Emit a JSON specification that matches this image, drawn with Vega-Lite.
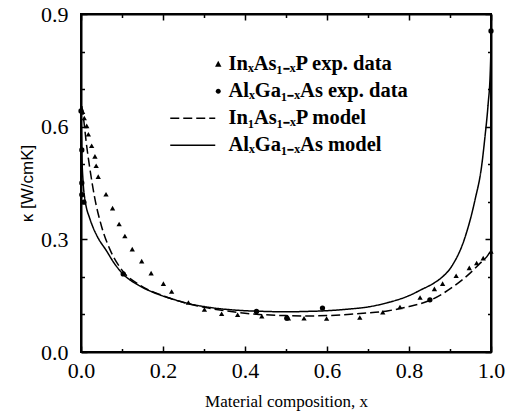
{
  "$schema": "https://vega.github.io/schema/vega-lite/v6.json",
  "width": 410,
  "height": 338,
  "autosize": {"type": "none"},
  "padding": {"left": 81, "top": 14, "right": 17, "bottom": 66},
  "background": "white",
  "config": {
    "view": {"stroke": "black", "strokeWidth": 2},
    "axis": {
      "grid": false,
      "domainColor": "black",
      "domainWidth": 2,
      "tickColor": "black",
      "tickWidth": 1.5,
      "labelFont": "Liberation Serif",
      "labelFontSize": 22,
      "labelColor": "black",
      "labelFlush": false,
      "titleColor": "black"
    }
  },
  "datasets": {
    "exp": [
      {"series": "InₓAs₁₋ₓP exp. data", "x": 0.004, "k": 0.640},
      {"series": "InₓAs₁₋ₓP exp. data", "x": 0.008, "k": 0.623},
      {"series": "InₓAs₁₋ₓP exp. data", "x": 0.014, "k": 0.602},
      {"series": "InₓAs₁₋ₓP exp. data", "x": 0.018, "k": 0.580},
      {"series": "InₓAs₁₋ₓP exp. data", "x": 0.026, "k": 0.549},
      {"series": "InₓAs₁₋ₓP exp. data", "x": 0.034, "k": 0.521},
      {"series": "InₓAs₁₋ₓP exp. data", "x": 0.037, "k": 0.496},
      {"series": "InₓAs₁₋ₓP exp. data", "x": 0.042, "k": 0.467},
      {"series": "InₓAs₁₋ₓP exp. data", "x": 0.061, "k": 0.420},
      {"series": "InₓAs₁₋ₓP exp. data", "x": 0.077, "k": 0.383},
      {"series": "InₓAs₁₋ₓP exp. data", "x": 0.093, "k": 0.341},
      {"series": "InₓAs₁₋ₓP exp. data", "x": 0.107, "k": 0.309},
      {"series": "InₓAs₁₋ₓP exp. data", "x": 0.125, "k": 0.274},
      {"series": "InₓAs₁₋ₓP exp. data", "x": 0.148, "k": 0.242},
      {"series": "InₓAs₁₋ₓP exp. data", "x": 0.171, "k": 0.210},
      {"series": "InₓAs₁₋ₓP exp. data", "x": 0.201, "k": 0.182},
      {"series": "InₓAs₁₋ₓP exp. data", "x": 0.221, "k": 0.161},
      {"series": "InₓAs₁₋ₓP exp. data", "x": 0.262, "k": 0.132},
      {"series": "InₓAs₁₋ₓP exp. data", "x": 0.301, "k": 0.113},
      {"series": "InₓAs₁₋ₓP exp. data", "x": 0.343, "k": 0.102},
      {"series": "InₓAs₁₋ₓP exp. data", "x": 0.382, "k": 0.099},
      {"series": "InₓAs₁₋ₓP exp. data", "x": 0.441, "k": 0.095},
      {"series": "InₓAs₁₋ₓP exp. data", "x": 0.506, "k": 0.090},
      {"series": "InₓAs₁₋ₓP exp. data", "x": 0.544, "k": 0.090},
      {"series": "InₓAs₁₋ₓP exp. data", "x": 0.599, "k": 0.089},
      {"series": "InₓAs₁₋ₓP exp. data", "x": 0.680, "k": 0.092},
      {"series": "InₓAs₁₋ₓP exp. data", "x": 0.736, "k": 0.106},
      {"series": "InₓAs₁₋ₓP exp. data", "x": 0.778, "k": 0.120},
      {"series": "InₓAs₁₋ₓP exp. data", "x": 0.827, "k": 0.145},
      {"series": "InₓAs₁₋ₓP exp. data", "x": 0.862, "k": 0.168},
      {"series": "InₓAs₁₋ₓP exp. data", "x": 0.882, "k": 0.182},
      {"series": "InₓAs₁₋ₓP exp. data", "x": 0.915, "k": 0.203},
      {"series": "InₓAs₁₋ₓP exp. data", "x": 0.947, "k": 0.224},
      {"series": "InₓAs₁₋ₓP exp. data", "x": 0.965, "k": 0.237},
      {"series": "InₓAs₁₋ₓP exp. data", "x": 0.981, "k": 0.250},
      {"series": "InₓAs₁₋ₓP exp. data", "x": 1.0, "k": 0.268},
      {"series": "AlₓGa₁₋ₓAs exp. data", "x": 0.0, "k": 0.642},
      {"series": "AlₓGa₁₋ₓAs exp. data", "x": 0.002, "k": 0.538},
      {"series": "AlₓGa₁₋ₓAs exp. data", "x": 0.002, "k": 0.450},
      {"series": "AlₓGa₁₋ₓAs exp. data", "x": 0.002, "k": 0.419},
      {"series": "AlₓGa₁₋ₓAs exp. data", "x": 0.007, "k": 0.399},
      {"series": "AlₓGa₁₋ₓAs exp. data", "x": 0.103, "k": 0.208},
      {"series": "AlₓGa₁₋ₓAs exp. data", "x": 0.428, "k": 0.108},
      {"series": "AlₓGa₁₋ₓAs exp. data", "x": 0.502, "k": 0.090},
      {"series": "AlₓGa₁₋ₓAs exp. data", "x": 0.589, "k": 0.117},
      {"series": "AlₓGa₁₋ₓAs exp. data", "x": 0.851, "k": 0.139},
      {"series": "AlₓGa₁₋ₓAs exp. data", "x": 1.0, "k": 0.855}
    ],
    "model": [
      {"series": "In₁As₁₋ₓP  model", "x": 0.002, "k": 0.655},
      {"series": "In₁As₁₋ₓP  model", "x": 0.007, "k": 0.615},
      {"series": "In₁As₁₋ₓP  model", "x": 0.013, "k": 0.556},
      {"series": "In₁As₁₋ₓP  model", "x": 0.021, "k": 0.493},
      {"series": "In₁As₁₋ₓP  model", "x": 0.033, "k": 0.413},
      {"series": "In₁As₁₋ₓP  model", "x": 0.05, "k": 0.335},
      {"series": "In₁As₁₋ₓP  model", "x": 0.071, "k": 0.272},
      {"series": "In₁As₁₋ₓP  model", "x": 0.1, "k": 0.218},
      {"series": "In₁As₁₋ₓP  model", "x": 0.144, "k": 0.178},
      {"series": "In₁As₁₋ₓP  model", "x": 0.2, "k": 0.150},
      {"series": "In₁As₁₋ₓP  model", "x": 0.25, "k": 0.132},
      {"series": "In₁As₁₋ₓP  model", "x": 0.3, "k": 0.119},
      {"series": "In₁As₁₋ₓP  model", "x": 0.35, "k": 0.110},
      {"series": "In₁As₁₋ₓP  model", "x": 0.4, "k": 0.103},
      {"series": "In₁As₁₋ₓP  model", "x": 0.45, "k": 0.099},
      {"series": "In₁As₁₋ₓP  model", "x": 0.5, "k": 0.097},
      {"series": "In₁As₁₋ₓP  model", "x": 0.55, "k": 0.096},
      {"series": "In₁As₁₋ₓP  model", "x": 0.6, "k": 0.097},
      {"series": "In₁As₁₋ₓP  model", "x": 0.65, "k": 0.100},
      {"series": "In₁As₁₋ₓP  model", "x": 0.7, "k": 0.104},
      {"series": "In₁As₁₋ₓP  model", "x": 0.75, "k": 0.110},
      {"series": "In₁As₁₋ₓP  model", "x": 0.8, "k": 0.121},
      {"series": "In₁As₁₋ₓP  model", "x": 0.85, "k": 0.137},
      {"series": "In₁As₁₋ₓP  model", "x": 0.908, "k": 0.174},
      {"series": "In₁As₁₋ₓP  model", "x": 0.949, "k": 0.210},
      {"series": "In₁As₁₋ₓP  model", "x": 0.975, "k": 0.238},
      {"series": "In₁As₁₋ₓP  model", "x": 0.99, "k": 0.254},
      {"series": "In₁As₁₋ₓP  model", "x": 1.0, "k": 0.270},
      {"series": "AlₓGa₁₋ₓAs model", "x": 0.0, "k": 0.65},
      {"series": "AlₓGa₁₋ₓAs model", "x": 0.002, "k": 0.53},
      {"series": "AlₓGa₁₋ₓAs model", "x": 0.005, "k": 0.455},
      {"series": "AlₓGa₁₋ₓAs model", "x": 0.009, "k": 0.41},
      {"series": "AlₓGa₁₋ₓAs model", "x": 0.013, "k": 0.385},
      {"series": "AlₓGa₁₋ₓAs model", "x": 0.02, "k": 0.36},
      {"series": "AlₓGa₁₋ₓAs model", "x": 0.03, "k": 0.33},
      {"series": "AlₓGa₁₋ₓAs model", "x": 0.04, "k": 0.307},
      {"series": "AlₓGa₁₋ₓAs model", "x": 0.063, "k": 0.268},
      {"series": "AlₓGa₁₋ₓAs model", "x": 0.08, "k": 0.238},
      {"series": "AlₓGa₁₋ₓAs model", "x": 0.103, "k": 0.207},
      {"series": "AlₓGa₁₋ₓAs model", "x": 0.14, "k": 0.178},
      {"series": "AlₓGa₁₋ₓAs model", "x": 0.185, "k": 0.155},
      {"series": "AlₓGa₁₋ₓAs model", "x": 0.22, "k": 0.142},
      {"series": "AlₓGa₁₋ₓAs model", "x": 0.266, "k": 0.128},
      {"series": "AlₓGa₁₋ₓAs model", "x": 0.3, "k": 0.121},
      {"series": "AlₓGa₁₋ₓAs model", "x": 0.35, "k": 0.114},
      {"series": "AlₓGa₁₋ₓAs model", "x": 0.4, "k": 0.110},
      {"series": "AlₓGa₁₋ₓAs model", "x": 0.45, "k": 0.108},
      {"series": "AlₓGa₁₋ₓAs model", "x": 0.5, "k": 0.107},
      {"series": "AlₓGa₁₋ₓAs model", "x": 0.55, "k": 0.108},
      {"series": "AlₓGa₁₋ₓAs model", "x": 0.6, "k": 0.110},
      {"series": "AlₓGa₁₋ₓAs model", "x": 0.65, "k": 0.114},
      {"series": "AlₓGa₁₋ₓAs model", "x": 0.7, "k": 0.120},
      {"series": "AlₓGa₁₋ₓAs model", "x": 0.75, "k": 0.132},
      {"series": "AlₓGa₁₋ₓAs model", "x": 0.8, "k": 0.150},
      {"series": "AlₓGa₁₋ₓAs model", "x": 0.83, "k": 0.166},
      {"series": "AlₓGa₁₋ₓAs model", "x": 0.86, "k": 0.183},
      {"series": "AlₓGa₁₋ₓAs model", "x": 0.876, "k": 0.195},
      {"series": "AlₓGa₁₋ₓAs model", "x": 0.904, "k": 0.228},
      {"series": "AlₓGa₁₋ₓAs model", "x": 0.935, "k": 0.30},
      {"series": "AlₓGa₁₋ₓAs model", "x": 0.961, "k": 0.405},
      {"series": "AlₓGa₁₋ₓAs model", "x": 0.977, "k": 0.494},
      {"series": "AlₓGa₁₋ₓAs model", "x": 0.985, "k": 0.57},
      {"series": "AlₓGa₁₋ₓAs model", "x": 0.993, "k": 0.66},
      {"series": "AlₓGa₁₋ₓAs model", "x": 0.998, "k": 0.74},
      {"series": "AlₓGa₁₋ₓAs model", "x": 1.0, "k": 0.81}
    ]
  },
  "layer": [
    {
      "data": {"name": "model"},
      "mark": {"type": "line", "color": "black", "strokeWidth": 1.5, "interpolate": "monotone"},
      "encoding": {
        "x": {
          "field": "x", "type": "quantitative", "scale": {"domain": [0, 1]},
          "axis": {"orient": "bottom", "values": [0, 0.2, 0.4, 0.6, 0.8, 1.0], "format": ".1f", "tickSize": -6, "labelPadding": 14,
            "labelFont": "Liberation Serif", "labelFontSize": 22, "labelFlush": false,
            "title": "Material composition, x", "titleFont": "Liberation Serif", "titleFontSize": 17, "titleFontWeight": "normal", "titlePadding": 12}
        },
        "y": {
          "field": "k", "type": "quantitative", "scale": {"domain": [0, 0.9]},
          "axis": {"orient": "left", "values": [0, 0.3, 0.6, 0.9], "format": ".1f", "tickSize": -6, "labelPadding": 19,
            "labelFont": "Liberation Serif", "labelFontSize": 22, "labelFlush": false,
            "title": "κ [W/cmK]", "titleFont": "Liberation Sans", "titleFontSize": 17, "titleFontWeight": "normal", "titlePadding": 4}
        },
        "strokeDash": {
          "field": "series", "type": "nominal",
          "scale": {"domain": ["In₁As₁₋ₓP  model", "AlₓGa₁₋ₓAs model"], "range": [[9, 4], [1, 0]]},
          "legend": null
        }
      }
    },
    {
      "data": {"name": "exp"},
      "mark": {"type": "point", "filled": true, "color": "black", "opacity": 1, "size": 28},
      "encoding": {
        "x": {
          "field": "x", "type": "quantitative",
          "axis": {"orient": "bottom", "values": [0.1, 0.3, 0.5, 0.7, 0.9], "labels": false, "domain": false, "tickSize": -3.5, "title": null}
        },
        "y": {
          "field": "k", "type": "quantitative",
          "axis": {"orient": "left", "values": [0.1, 0.2, 0.4, 0.5, 0.7, 0.8], "labels": false, "domain": false, "tickSize": -3.5, "title": null}
        },
        "shape": {
          "field": "series", "type": "nominal",
          "scale": {"domain": ["InₓAs₁₋ₓP exp. data", "AlₓGa₁₋ₓAs exp. data"], "range": ["triangle-up", "circle"]},
          "legend": null
        }
      }
    },
    {
      "data": {"name": "exp"},
      "mark": {"type": "point", "filled": true, "color": "black", "opacity": 0},
      "encoding": {
        "x": {
          "field": "x", "type": "quantitative",
          "axis": {"orient": "top", "values": [0, 0.2, 0.4, 0.6, 0.8, 1.0], "labels": false, "domain": true, "tickSize": -6, "title": null}
        },
        "y": {
          "field": "k", "type": "quantitative",
          "axis": {"orient": "right", "values": [0, 0.3, 0.6, 0.9], "labels": false, "domain": true, "tickSize": -6, "title": null}
        },
        "shape": {
          "field": "series", "type": "nominal",
          "scale": {
            "domain": ["InₓAs₁₋ₓP exp. data", "AlₓGa₁₋ₓAs exp. data", "In₁As₁₋ₓP  model", "AlₓGa₁₋ₓAs model"],
            "range": [
              "M5,-0.68L5.64,0.48L4.36,0.48Z",
              "M5.5,0A0.5,0.5 0 1,1 4.5,0A0.5,0.5 0 1,1 5.5,0Z",
              "M-4.6,-0.16H-2.8V0.16H-4.6Z M-2,-0.16H-0.2V0.16H-2Z M0.6,-0.16H2.4V0.16H0.6Z M3.2,-0.16H4.4V0.16H3.2Z",
              "M-4.6,-0.16H4.4V0.16H-4.6Z"
            ]
          },
          "legend": {
            "orient": "none", "legendX": 102, "legendY": 40, "title": null, "padding": 0,
            "labelFont": "Liberation Serif", "labelFontSize": 20.5, "labelFontWeight": "bold", "labelColor": "black",
            "labelLimit": 400, "labelOffset": 25, "rowPadding": 6, "symbolSize": 100, "symbolOpacity": 1,
            "symbolFillColor": "black", "symbolStrokeWidth": 0, "symbolOffset": 0
          }
        }
      }
    },
    {
      "data": {"name": "model"},
      "mark": {"type": "point", "opacity": 0},
      "encoding": {
        "x": {
          "field": "x", "type": "quantitative",
          "axis": {"orient": "top", "values": [0.1, 0.3, 0.5, 0.7, 0.9], "labels": false, "domain": false, "tickSize": -3.5, "title": null}
        },
        "y": {
          "field": "k", "type": "quantitative",
          "axis": {"orient": "right", "values": [0.1, 0.2, 0.4, 0.5, 0.7, 0.8], "labels": false, "domain": false, "tickSize": -3.5, "title": null}
        }
      }
    }
  ],
  "resolve": {
    "scale": {"shape": "independent"},
    "axis": {"x": "independent", "y": "independent"}
  }
}
